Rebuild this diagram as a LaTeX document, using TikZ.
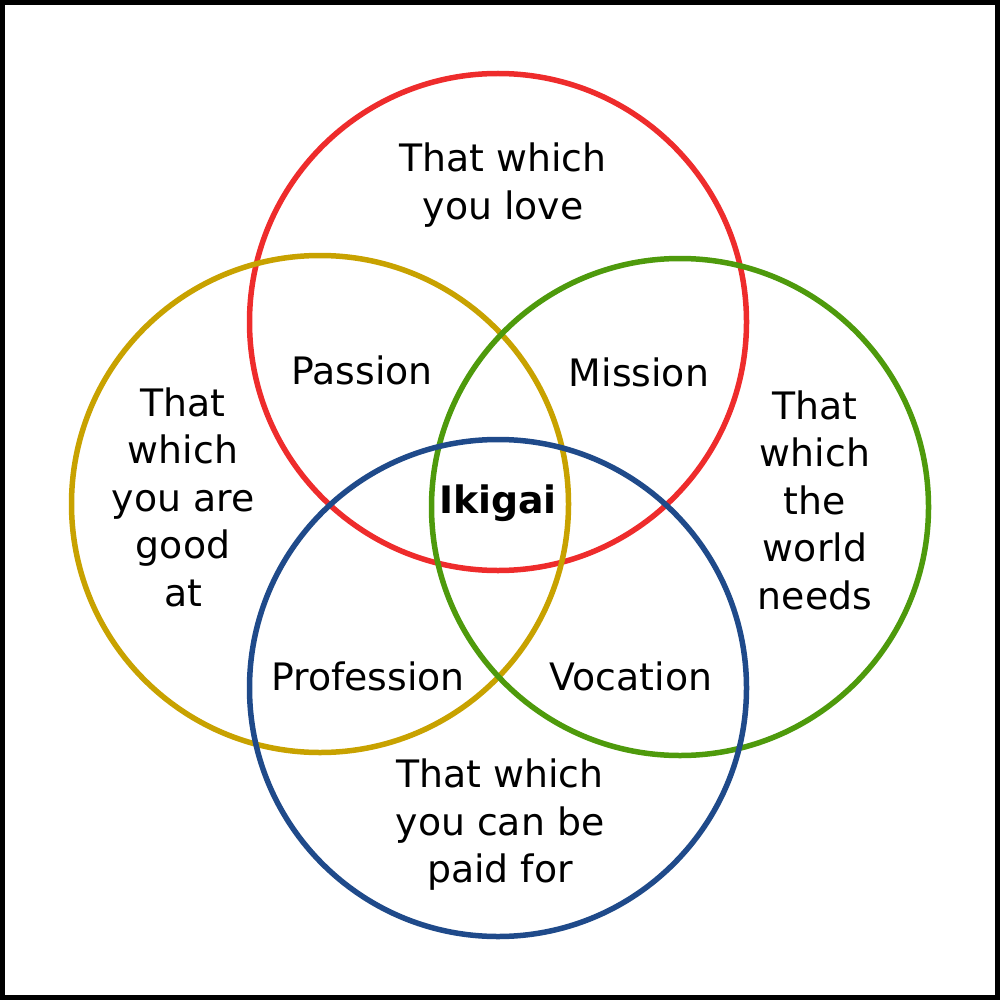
\documentclass[tikz,border=0pt]{standalone}
\usepackage{fontspec}
\setmainfont{DejaVu Sans}
\usetikzlibrary{positioning}

\definecolor{lovered}{HTML}{EE2C2C}
\definecolor{goodgold}{HTML}{C8A200}
\definecolor{worldgreen}{HTML}{4E9A0C}
\definecolor{paidblue}{HTML}{1F4A8A}

\begin{document}
\begin{tikzpicture}[x=1pt, y=-1pt]
    % Define styles
    \tikzstyle{ring} = [circle, line width=5.5pt, minimum size=497pt, inner sep=0pt]
    \tikzstyle{areatext} = [align=center, inner sep=0pt, font=\fontsize{37.8}{47.5}\selectfont]
    \tikzstyle{frame} = [line width=5pt]

    \useasboundingbox (0,0) rectangle (1000,1000);
    \draw [frame] (2.5,2.5) rectangle (997.5,997.5);

    % Circles
    \node [ring, draw=lovered] (love) at (498,322) {};
    \node [ring, draw=goodgold] (good) at (320,504) {};
    \node [ring, draw=worldgreen] (world) at (680,507) {};
    \node [ring, draw=paidblue] (paid) at (498,688) {};

    % Texts
    \node [areatext] (lovetext) at (503,185) {That which\\you love};
    \node [areatext] (goodtext) at (183,497) {That\\which\\you are\\good\\at};
    \node [areatext] (worldtext) at (815,500) {That\\which\\the\\world\\needs};
    \node [areatext] (paidtext) at (500,825) {That which\\you can be\\paid for};
    \node [areatext] (passion) at (362,370) {Passion};
    \node [areatext] (mission) at (639,372) {Mission};
    \node [areatext] (profession) at (368,676) {Profession};
    \node [areatext] (vocation) at (631,676) {Vocation};
    \node [areatext, font=\fontsize{37.8}{47.5}\selectfont\bfseries] (ikigai) at (498,503) {Ikigai};
\end{tikzpicture}
\end{document}
